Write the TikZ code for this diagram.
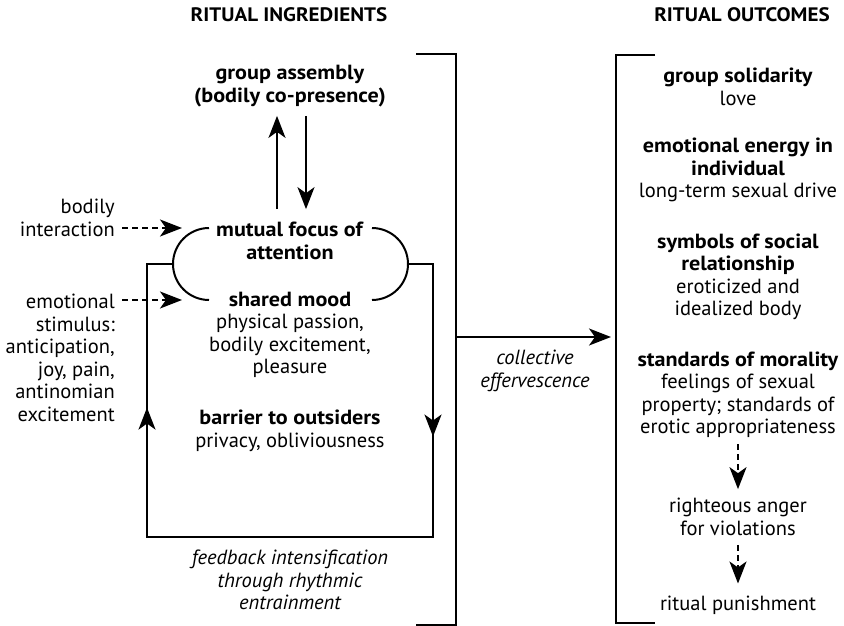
\documentclass[tikz,border=0pt]{standalone}
\usepackage{fontspec}
\setmainfont{PT Sans}[BoldFeatures={FakeStretch=1.08}]
\usetikzlibrary{arrows.meta}

\begin{document}
\begin{tikzpicture}[x=1pt,y=-1pt,
    txt/.style={align=center,inner sep=0pt,font=\fontsize{20.5}{22.5}\selectfont},
    side/.style={txt,align=right,anchor=east},
    head/.style={txt,font=\fontsize{19.5}{22.5}\selectfont\bfseries},
    line/.style={line width=2pt,draw},
    flow/.style={line,-{Stealth[length=22pt,width=17pt,inset=6pt]}},
    hint/.style={flow,dash pattern=on 6pt off 4pt}]
    \useasboundingbox (0,0) rectangle (844,626);

    \node[head] (ingr) at (289,15) {RITUAL INGREDIENTS};
    \node[head] (outc) at (742,15) {RITUAL OUTCOMES};

    \node[txt] (assembly) at (290,86) {\textbf{group assembly}\\\textbf{(bodily co-presence)}};
    \node[txt] (focus) at (290,241) {\textbf{mutual focus of}\\\textbf{attention}};
    \node[txt] (mood) at (290,335) {\textbf{shared mood}\\physical passion,\\bodily excitement,\\pleasure};
    \node[txt] (barrier) at (290,431) {\textbf{barrier to outsiders}\\privacy, obliviousness};
    \node[txt] (feedback) at (290,580) {\itshape feedback intensification\\\itshape through rhythmic\\\itshape entrainment};
    \node[side] (bodily) at (115,218) {bodily\\interaction};
    \node[side] (stimulus) at (115,358) {emotional\\stimulus:\\anticipation,\\joy, pain,\\antinomian\\excitement};
    \node[txt] (effer) at (535,371) {\itshape collective\\\itshape effervescence};

    \node[txt] (solid) at (738,87) {\textbf{group solidarity}\\love};
    \node[txt] (energy) at (738,170) {\textbf{emotional energy in}\\\textbf{individual}\\long-term sexual drive};
    \node[txt] (symbols) at (738,277) {\textbf{symbols of social}\\\textbf{relationship}\\eroticized and\\idealized body};
    \node[txt] (morality) at (738,395) {\textbf{standards of morality}\\feelings of sexual\\property; standards of\\erotic appropriateness};
    \node[txt] (anger) at (738,517) {righteous anger\\for violations};
    \node[txt] (punish) at (738,605) {ritual punishment};

    \coordinate (pillNW) at (209,228);
    \coordinate (pillSW) at (209,300);
    \coordinate (pillNE) at (372,228);
    \coordinate (pillW) at (173,264);
    \coordinate (pillE) at (408,264);
    \coordinate (loopNW) at (147,264);
    \coordinate (loopSW) at (147,537);
    \coordinate (loopSE) at (433,537);
    \coordinate (loopNE) at (433,264);
    \coordinate (brkL) at (456,337);
    \coordinate (brkR) at (616,337);

    \draw[line] (pillNW) arc[start angle=270,end angle=90,radius=36];
    \draw[line] (pillNE) arc[start angle=270,end angle=450,radius=36];

    \draw[line] (pillW) -- (loopNW) -- (loopSW) -- (loopSE) -- (loopNE) -- (pillE);
    \path (loopSW) -- (loopNW) coordinate[pos=0.474] (upTip);
    \path (loopNE) -- (loopSE) coordinate[pos=0.632] (downTip);
    \draw[flow] (loopSW) -- (upTip);
    \draw[flow] (loopNE) -- (downTip);

    \draw[flow,shorten <=13pt,shorten >=9pt] ([xshift=-13pt]focus.north) -- ([xshift=-13pt]assembly.south);
    \draw[flow,shorten <=9pt,shorten >=13pt] ([xshift=16pt]assembly.south) -- ([xshift=16pt]focus.north);

    \draw[hint,shorten <=7pt] (bodily.east |- pillNW) -- ([xshift=-27pt]pillNW);
    \draw[hint,shorten <=7pt] (stimulus.east |- pillSW) -- ([xshift=-27pt]pillSW);

    \draw[line] (416,54) -- (456,54) -- (456,625) -- (416,625);
    \draw[line] (655,55) -- (616,55) -- (616,623) -- (655,623);
    \draw[flow,shorten >=5pt] (brkL) -- (brkR);

    \draw[hint,shorten <=6pt,shorten >=9pt] (morality) -- (anger);
    \draw[hint,shorten <=9pt,shorten >=12pt] (anger) -- (punish);
  \end{tikzpicture}
\end{document}
